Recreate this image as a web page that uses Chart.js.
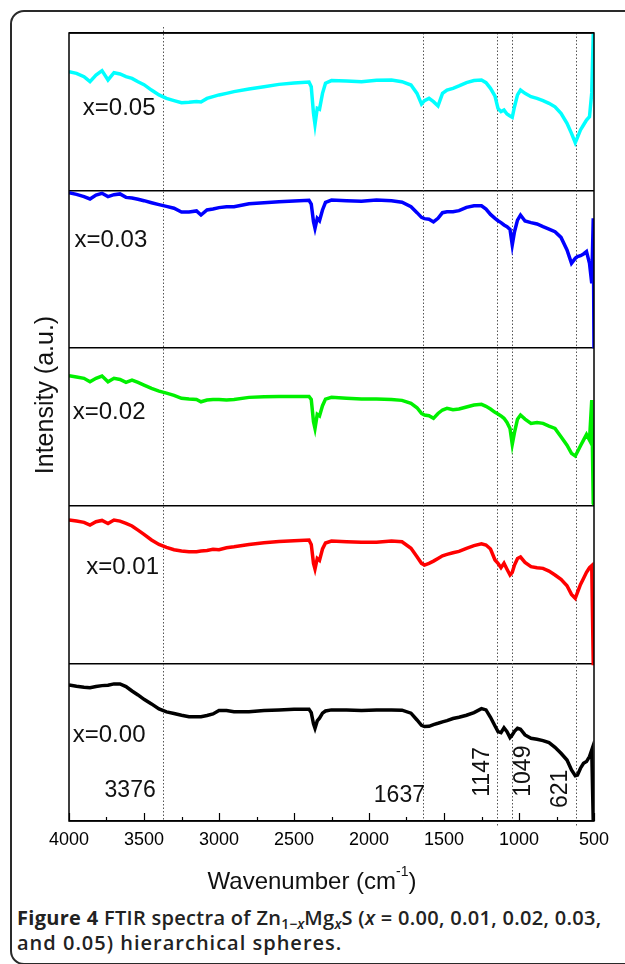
<!DOCTYPE html>
<html>
<head>
<meta charset="utf-8">
<script src="https://cdn.jsdelivr.net/npm/chart.js@4.4.1/dist/chart.umd.min.js"></script>
<style>
  body { margin: 0; width: 625px; height: 964px; overflow: hidden; background: #fff; position: relative; }
  .frame { position: absolute; left: 10px; top: 10px; width: 660px; height: 951px; border: 2px solid #2a2a2a; border-radius: 14px; }
  .wrap { position: absolute; left: 0; top: 0; width: 625px; height: 900px; }
  .caption { position: absolute; left: 17px; top: 905px; font-family: "Open Sans", sans-serif; font-size: 20px; font-weight: 600; line-height: 25px; color: #222; white-space: nowrap; }
  .caption b { font-weight: 700; }
  .caption .l1 { letter-spacing: 0.3px; }
  .caption .l2 { letter-spacing: 1px; }
  .caption sub { font-size: 0.7em; vertical-align: -0.3em; line-height: 0; letter-spacing: 0; }
</style>
</head>
<body>
<div class="frame"></div>
<div class="wrap"><canvas id="ftirChart"></canvas></div>
<div class="caption"><span class="l1"><b>Figure 4</b> FTIR spectra of Zn<sub>1−<i>x</i></sub>Mg<sub><i>x</i></sub>S (<i>x</i> = 0.00, 0.01, 0.02, 0.03,</span><br><span class="l2">and 0.05) hierarchical spheres.</span></div>
<script>
// wavenumber grid (cm-1), shared by all spectra
const wavenumber = [4000, 3950, 3900, 3860, 3820, 3780, 3740, 3700, 3660, 3620, 3580, 3540, 3500, 3450, 3400, 3350, 3300, 3250, 3200, 3150, 3120, 3080, 3040, 3000,
  2950, 2900, 2800, 2700, 2600, 2500, 2400,
  2385, 2370, 2360, 2345, 2330, 2310, 2290, 2250,
  2150, 2050, 1950, 1850, 1780, 1720, 1680, 1650, 1630, 1600, 1570, 1540, 1510, 1480, 1440, 1400, 1350, 1300, 1250, 1220, 1190, 1160, 1140, 1120, 1100, 1080, 1060, 1045, 1030, 1010, 990,
  960, 920, 880, 840, 800, 760, 720, 680, 650, 625, 610, 590, 570, 550, 530, 515, 505, 500];

// intensity (a.u.) of each spectrum inside its own panel, 0 = panel bottom, 100 = panel top
const x005 = [75.5, 74.4, 72.3, 69.1, 73.3, 76.1, 70.2, 74.8, 74.0, 72.3, 71.2, 69.1, 67.2, 63.8, 60.7, 58.5, 57.1, 55.8, 56.0, 56.6, 56.2, 58.5, 59.6, 60.7,
  61.7, 62.8, 64.5, 65.9, 67.4, 68.3, 68.9,
  65.9, 49.0, 42.0, 52.2, 51.6, 61.7, 68.1, 69.8,
  69.5, 69.1, 70.0, 70.2, 69.1, 67.0, 61.7, 54.9, 57.1, 58.5, 56.4, 53.7, 61.7, 63.8, 64.9, 66.4, 68.5, 69.8, 70.2, 68.5, 64.9, 60.0, 52.2, 50.1, 51.1, 48.6, 47.3, 46.5, 53.2, 60.7, 63.8,
  61.7, 59.6, 58.5, 57.1, 55.4, 53.2, 49.0, 42.7, 36.3, 30.4, 33.8, 38.5, 41.6, 44.8, 46.9, 62.0, 99.0, 99.8];
const x003 = [98.7, 97.6, 96.2, 94.7, 97.2, 98.3, 96.2, 97.4, 97.9, 95.7, 95.3, 94.5, 93.6, 92.3, 91.1, 90.0, 88.8, 86.4, 86.4, 87.1, 84.5, 87.7, 88.3, 89.2,
  89.8, 89.8, 91.7, 92.3, 93.0, 93.4, 93.8,
  91.5, 80.3, 76.1, 82.4, 80.9, 87.7, 92.6, 94.0,
  93.6, 93.2, 94.0, 93.6, 92.6, 89.8, 86.0, 83.0, 82.2, 81.8, 80.1, 82.4, 86.0, 86.6, 86.6, 87.3, 89.4, 90.4, 90.4, 88.3, 84.9, 82.4, 80.9, 79.7, 78.2, 77.1, 75.4, 65.5, 73.9, 81.3, 84.5,
  80.7, 79.7, 78.8, 77.1, 75.6, 73.9, 70.3, 62.3, 53.9, 57.0, 58.1, 58.7, 59.8, 61.3, 53.9, 41.2, 82.4, 0];
const x002 = [82.5, 81.7, 80.9, 78.7, 80.9, 82.3, 78.7, 80.9, 80.2, 78.3, 79.8, 78.3, 76.6, 74.5, 72.8, 71.5, 70.1, 68.2, 67.7, 67.5, 66.0, 67.1, 67.5, 67.5,
  67.1, 67.5, 68.8, 69.2, 69.4, 69.4, 69.4,
  67.5, 53.4, 49.1, 58.0, 57.0, 63.5, 67.7, 68.8,
  68.2, 67.7, 67.7, 67.5, 66.9, 65.0, 62.2, 58.6, 57.6, 57.2, 55.5, 58.6, 60.8, 61.8, 61.0, 61.4, 62.7, 63.9, 64.4, 63.1, 61.4, 59.3, 58.2, 57.0, 55.5, 52.9, 49.1, 39.0, 46.6, 55.0, 57.6,
  55.0, 52.3, 52.9, 52.3, 50.6, 49.1, 43.8, 38.5, 33.3, 31.6, 34.3, 38.1, 41.7, 45.3, 41.7, 67.1, 1.5, 0.9];
const x001 = [91.0, 90.3, 89.5, 87.8, 89.9, 90.7, 88.8, 91.0, 90.3, 88.8, 87.2, 84.6, 81.9, 78.3, 75.5, 73.6, 72.1, 71.3, 70.9, 70.9, 71.3, 71.7, 72.4, 72.1,
  73.4, 74.0, 75.5, 76.6, 77.4, 77.9, 78.3,
  75.5, 63.5, 59.9, 66.6, 65.4, 72.6, 76.4, 77.6,
  77.2, 76.8, 76.8, 77.6, 77.2, 73.0, 67.7, 63.5, 62.4, 63.5, 64.9, 66.6, 68.3, 69.2, 70.2, 71.1, 73.0, 74.7, 75.9, 75.1, 72.6, 65.6, 63.5, 60.7, 63.5, 59.7, 56.1, 57.8, 62.4, 66.6, 67.5,
  64.1, 61.4, 60.7, 60.3, 58.6, 56.1, 53.3, 49.3, 43.8, 41.3, 45.1, 50.1, 53.9, 57.8, 60.7, 62.0, 0, 0];
const x000 = [86.3, 85.5, 84.9, 84.6, 85.3, 85.9, 86.1, 87.0, 87.0, 85.3, 82.5, 80.0, 77.2, 74.3, 71.1, 69.2, 68.2, 67.1, 66.2, 66.2, 66.2, 66.9, 67.9, 70.1,
  70.1, 69.4, 69.4, 70.1, 70.5, 70.9, 70.9,
  68.8, 61.6, 58.8, 63.5, 65.2, 68.4, 69.8, 70.5,
  70.5, 70.1, 70.5, 70.5, 70.3, 68.4, 64.1, 60.7, 59.9, 60.1, 61.2, 62.0, 62.9, 63.7, 65.0, 65.8, 67.1, 68.8, 71.3, 70.5, 65.8, 60.3, 56.7, 56.1, 59.1, 56.7, 52.9, 54.6, 56.9, 58.8, 58.2,
  54.6, 52.5, 51.9, 51.0, 49.7, 46.8, 43.0, 38.7, 32.4, 28.8, 29.2, 33.5, 36.6, 37.7, 40.9, 45.1, 0, 0];

// marked band positions (cm-1)
const peakMarks = [3376, 1637, 1147, 1049, 621];

const FONT = "'Liberation Sans', Arial, sans-serif";

// panels from bottom to top
const series = [
  { label: "x=0.00", values: x000, color: "#000000" },
  { label: "x=0.01", values: x001, color: "#ff0000" },
  { label: "x=0.02", values: x002, color: "#00f000" },
  { label: "x=0.03", values: x003, color: "#0000ff" },
  { label: "x=0.05", values: x005, color: "#00ffff" },
];

// text placement in data units: [wavenumber of text start, y]
const panelLabelPos = [[3975, 50], [3885, 157], [3975, 255], [3963, 364], [3908, 448]];
const peakLabelPos = {
  3376: { at: [3763, 15.4], rotate: false },
  1637: { at: [1968, 12.2], rotate: false },
  1147: { at: [1241, 15.4], rotate: true },
  1049: { at: [972, 15.4], rotate: true },
  621: { at: [719, 8.2], rotate: true },
};

const decor = {
  id: "ftirDecor",
  beforeDatasetsDraw(chart) {
    const { ctx, chartArea: a, scales: { x } } = chart;
    ctx.save();
    ctx.strokeStyle = "#555";
    ctx.lineWidth = 1;
    ctx.setLineDash([1.5, 2]);
    peakMarks.forEach((w) => {
      const px = Math.round(x.getPixelForValue(w)) + 0.5;
      ctx.beginPath();
      ctx.moveTo(px, w === 3376 ? a.top - 6 : a.top);
      ctx.lineTo(px, w === 1147 || w === 621 ? a.bottom + 5 : a.bottom);
      ctx.stroke();
    });
    ctx.restore();
  },
  afterDraw(chart) {
    const { ctx, chartArea: a, scales: { x, y } } = chart;
    ctx.save();
    // box
    ctx.strokeStyle = "#000";
    ctx.lineWidth = 1.5;
    ctx.strokeRect(a.left, a.top, a.right - a.left, a.bottom - a.top);
    // inward ticks
    ctx.lineWidth = 1.2;
    x.ticks.forEach((t) => {
      const px = Math.round(x.getPixelForValue(t.value)) + 0.5;
      const len = t.value % 500 === 0 ? 8 : 4;
      ctx.beginPath();
      ctx.moveTo(px, a.bottom);
      ctx.lineTo(px, a.bottom - len);
      ctx.stroke();
    });

    ctx.fillStyle = "#111";
    ctx.font = "24px " + FONT;
    ctx.textBaseline = "alphabetic";
    ctx.textAlign = "left";
    series.forEach((s, i) => {
      const [w, v] = panelLabelPos[i];
      ctx.fillText(s.label, x.getPixelForValue(w), y.getPixelForValue(v));
    });

    ctx.font = "23px " + FONT;
    peakMarks.forEach((w) => {
      const p = peakLabelPos[w];
      const px = x.getPixelForValue(p.at[0]);
      const py = y.getPixelForValue(p.at[1]);
      if (p.rotate) {
        ctx.save();
        ctx.translate(px, py);
        ctx.rotate(-Math.PI / 2);
        ctx.textBaseline = "middle";
        ctx.fillText(String(w), 0, 0);
        ctx.restore();
      } else {
        ctx.fillText(String(w), px, py);
      }
    });

    // axis titles
    ctx.textBaseline = "middle";
    ctx.font = "25px " + FONT;
    ctx.save();
    ctx.translate(46, 395);
    ctx.rotate(-Math.PI / 2);
    ctx.textAlign = "center";
    ctx.fillText("Intensity (a.u.)", 0, 0);
    ctx.restore();

    const big = "24px " + FONT, small = "14px " + FONT;
    ctx.font = big;
    const w1 = ctx.measureText("Wavenumber (cm").width;
    const w3 = ctx.measureText(")").width;
    ctx.font = small;
    const w2 = ctx.measureText("-1").width;
    let tx = 312 - (w1 + w2 + w3) / 2;
    const ty = 882;
    ctx.font = big;
    ctx.fillText("Wavenumber (cm", tx, ty);
    tx += w1;
    ctx.font = small;
    ctx.fillText("-1", tx, ty - 10);
    tx += w2;
    ctx.font = big;
    ctx.fillText(")", tx, ty);
    ctx.restore();
  },
};

new Chart(document.getElementById("ftirChart"), {
  type: "line",
  data: {
    datasets: series.map((s, i) => ({
      label: s.label,
      data: wavenumber.map((w, k) => ({ x: w, y: i * 100 + s.values[k] })),
      borderColor: s.color,
      borderWidth: 3.5,
      pointRadius: 0,
      tension: 0,
    })),
  },
  options: {
    responsive: true,
    maintainAspectRatio: false,
    animation: false,
    layout: { padding: { top: 33, left: 0, right: 31, bottom: 0 } },
    plugins: { legend: { display: false }, tooltip: { enabled: false } },
    scales: {
      x: {
        type: "linear",
        reverse: true,
        min: 500,
        max: 4000,
        afterFit: (s) => { s.height = 79; },
        grid: { display: false, drawTicks: false },
        border: { display: false },
        ticks: {
          stepSize: 250,
          autoSkip: false,
          maxRotation: 0,
          padding: 8,
          color: "#000",
          font: { size: 18, family: FONT },
          callback: (v) => (v % 500 === 0 ? v : ""),
        },
      },
      y: {
        min: 0,
        max: 500,
        afterFit: (s) => { s.width = 69; },
        grid: { color: "#000", lineWidth: 1.5, drawTicks: false },
        border: { display: false },
        ticks: { display: false, stepSize: 100 },
      },
    },
  },
  plugins: [decor],
});
</script>
</body>
</html>
